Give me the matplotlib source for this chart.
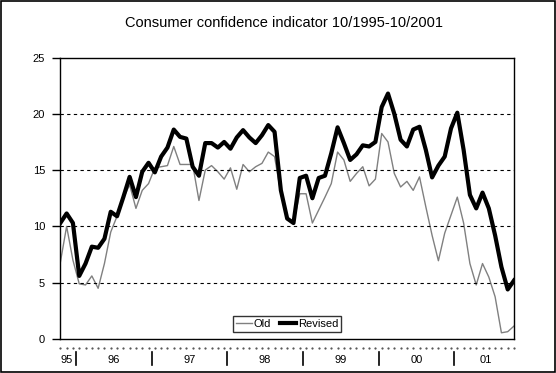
import numpy as np
import matplotlib.pyplot as plt
from matplotlib.patches import Rectangle

# monthly values 10/1995 - 10/2001
old = [6.8, 10.0, 7.0, 4.9, 4.8, 5.6, 4.5, 6.7, 9.5, 10.9, 12.5, 13.7,
       11.6, 13.2, 13.8, 15.2, 15.3, 15.4, 17.1, 15.5, 15.5, 15.5, 12.3, 15.0,
       15.4, 14.85, 14.2, 15.2, 13.3, 15.5, 14.85, 15.3, 15.6, 16.6, 16.2, 12.9,
       10.6, 10.3, 12.9, 12.9, 10.3, 11.45, 12.6, 13.8, 16.6, 15.9, 14.0, 14.7,
       15.3, 13.6, 14.2, 18.25, 17.5, 14.7, 13.5, 14.0, 13.2, 14.4, 11.75, 9.2,
       6.95, 9.4, 11.0, 12.6, 10.3, 6.7, 4.8, 6.7, 5.5, 3.75, 0.55, 0.65, 1.15]
revised = [10.3, 11.15, 10.3, 5.6, 6.7, 8.2, 8.1, 8.9, 11.3, 10.9, 12.6, 14.4,
           12.6, 14.85, 15.65, 14.8, 16.2, 17.0, 18.6, 17.95, 17.8, 15.3, 14.5, 17.4,
           17.4, 17.0, 17.5, 16.9, 17.9, 18.55, 17.9, 17.4, 18.1, 19.0, 18.4, 13.2,
           10.7, 10.3, 14.3, 14.5, 12.5, 14.3, 14.5, 16.5, 18.8, 17.4, 15.9, 16.4,
           17.2, 17.1, 17.5, 20.6, 21.8, 20.0, 17.7, 17.1, 18.6, 18.85, 16.8, 14.35,
           15.4, 16.2, 18.7, 20.1, 16.8, 12.8, 11.6, 13.0, 11.6, 9.2, 6.4, 4.4, 5.2]
years = ['95', '96', '97', '98', '99', '00', '01']
year_start = [0, 3, 15, 27, 39, 51, 63]   # index of first month of each year

months = np.arange(len(old))

fig = plt.figure(figsize=(5.56, 3.73), dpi=100)
plt.rcParams['font.family'] = ['Liberation Sans', 'DejaVu Sans']
ax = fig.add_axes([0.1085, 0.0912, 0.816, 0.7546])

ax.plot(months, old, color='#808080', lw=1, label='Old')
ax.plot(months, revised, color='black', lw=3, label='Revised')

ax.set_xlim(0, len(old) - 1)
ax.set_ylim(0, 25)
ax.set_yticks(range(0, 26, 5))
ax.tick_params(axis='y', direction='out', length=6, width=1, labelsize=8, pad=5)
ax.set_xticks([])
for v in range(5, 25, 5):
    ax.axhline(v, color='black', lw=0.8, ls=(0, (3, 3)))
for s in ax.spines.values():
    s.set_linewidth(1)

# month marks and year groups under the axis
ax.plot(months, [-0.8] * len(months), ls='none', marker='s', ms=0.6,
        color='0.35', clip_on=False)
tr = ax.get_xaxis_transform()
bounds = [b - 0.5 for b in year_start[1:]]
for b in bounds:
    ax.plot([b, b], [-0.046, -0.093], color='black', lw=1.2, transform=tr, clip_on=False)
edges = [-0.5] + bounds + [len(old) - 0.5]
for i, y in enumerate(years):
    ax.text((edges[i] + edges[i + 1]) / 2, -0.075, y, transform=tr,
            ha='center', va='center', fontsize=8)

leg = ax.legend(loc='lower center', bbox_to_anchor=(0.5, 0.025), ncol=2,
                fontsize=8, frameon=True, fancybox=False, edgecolor='black',
                handlelength=1.4, handletextpad=0.2, columnspacing=0.8,
                borderpad=0.25, borderaxespad=0)
leg.get_frame().set_linewidth(1)

fig.text(0.51, 0.938, 'Consumer confidence indicator 10/1995-10/2001',
         ha='center', va='center', fontsize=10.5)

fig.add_artist(Rectangle((0.001, 0.002), 0.997, 0.995, transform=fig.transFigure,
                         fill=False, lw=1.2, edgecolor='black'))

fig.savefig('out.png', dpi=100)
